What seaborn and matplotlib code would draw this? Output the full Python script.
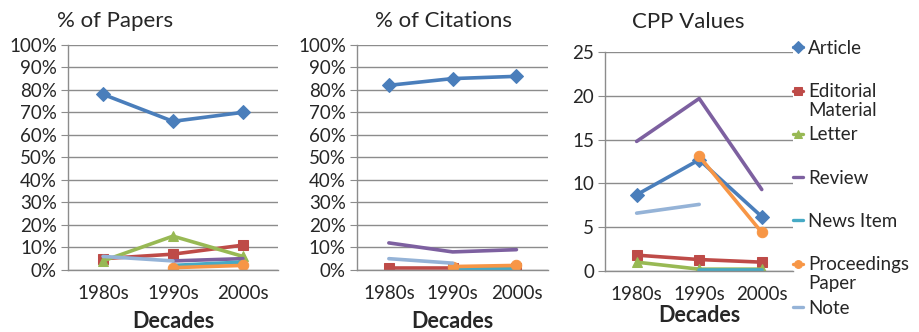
import numpy as np
import matplotlib
matplotlib.use("Agg")
import matplotlib.pyplot as plt
import seaborn as sns

# data
decades = ["1980s", "1990s", "2000s"]
types = ["Article", "Editorial", "Letter", "Review", "News Item", "Proceedings", "Note"]
colors = ["#4A7EBB", "#BE4B48", "#98B954", "#7D60A0", "#46AAC5", "#F79646", "#95B3D7"]
markers = ["D", "s", "^", None, None, "o", None]

papers_pct = [
    [78, 66, 70],          # Article
    [5, 7, 11],            # Editorial Material
    [4, 15, 6],            # Letter
    [np.nan, 4, 5],        # Review
    [np.nan, 2, 3.5],      # News Item
    [np.nan, 1, 2],        # Proceedings Paper
    [6, 4, np.nan],        # Note
]
citations_pct = [
    [82, 85, 86],
    [1, 1, 1],
    [np.nan, 0.5, 0.5],
    [12, 8, 9],
    [np.nan, 0.3, 0.3],
    [np.nan, 1.5, 2],
    [5, 3, np.nan],
]
cpp_values = [
    [8.7, 12.7, 6.2],
    [1.8, 1.3, 1.0],
    [1.0, 0.2, 0.2],
    [14.8, 19.7, 9.3],
    [np.nan, 0.1, 0.1],
    [np.nan, 13.1, 4.4],
    [6.6, 7.6, np.nan],
]

sns.set_style("white")
plt.rcParams["font.family"] = ["Lato", "DejaVu Sans"]

fig = plt.figure(figsize=(9.2, 3.32), dpi=100)
ax1 = fig.add_axes([0.074, 0.187, 0.228, 0.678])
ax2 = fig.add_axes([0.388, 0.187, 0.208, 0.678])
ax3 = fig.add_axes([0.658, 0.184, 0.204, 0.659])

x = np.arange(len(decades))
grid_col = "#8c8c8c"
fs = 13.5


def draw(ax, series, ylim, yticks, ylabels, title, tx, ty, lpad):
    for vals, name, col, mk in zip(series, types, colors, markers):
        sns.lineplot(x=x, y=vals, ax=ax, color=col, marker=mk, markersize=7.5,
                     markeredgecolor=col, linewidth=2.6, label=name, legend=False)
    ax.set_xlim(-0.5, 2.5)
    ax.set_ylim(*ylim)
    ax.set_yticks(yticks)
    ax.set_yticklabels(ylabels)
    ax.set_xticks(x)
    ax.set_xticklabels(decades)
    ax.set_xticks(np.arange(-0.5, 3, 1), minor=True)
    ax.tick_params(axis="x", which="major", length=0, labelsize=fs, pad=11)
    ax.tick_params(axis="x", which="minor", length=5, color=grid_col, direction="out")
    ax.tick_params(axis="y", length=5, color=grid_col, labelsize=fs, left=True, pad=3)
    ax.yaxis.grid(True, color=grid_col, linewidth=1)
    ax.set_axisbelow(True)
    for s in ["top", "right"]:
        ax.spines[s].set_visible(False)
    for s in ["left", "bottom"]:
        ax.spines[s].set_color(grid_col)
        ax.spines[s].set_linewidth(1)
    ax.set_xlabel("Decades", fontsize=15.5, fontweight="bold", labelpad=lpad)
    ax.set_ylabel("")
    ax.set_title(title, fontsize=16, x=tx, y=ty, pad=0)


pct_ticks = np.arange(0, 101, 10)
pct_labels = [f"{t}%" for t in pct_ticks]
draw(ax1, papers_pct, (0, 100), pct_ticks, pct_labels, "% of Papers", 0.224, 1.08, 6)
draw(ax2, citations_pct, (0, 100), pct_ticks, pct_labels, "% of Citations", 0.45, 1.08, 6)
cpp_ticks = np.arange(0, 26, 5)
draw(ax3, cpp_values, (0, 25), cpp_ticks, [str(t) for t in cpp_ticks], "CPP Values", 0.44, 1.11, 1)

leg = ax3.legend(handles=ax3.get_lines(), labels=types, loc="upper left",
                 bbox_to_anchor=(793 / 920, 1 - 40 / 332), bbox_transform=fig.transFigure,
                 frameon=False, fontsize=fs, borderpad=0, borderaxespad=0,
                 handlelength=0.55, handletextpad=0.25, labelspacing=1.4, markerscale=0.75)
for h in leg.legend_handles:
    h.set_linewidth(2.4)

# second lines of the wrapped legend labels
fig.canvas.draw()
inv = fig.transFigure.inverted()
for txt, extra in zip(leg.get_texts(), ["", "Material", "", "", "", "Paper", ""]):
    if extra:
        bb = txt.get_window_extent()
        x0, y0 = inv.transform((bb.x0, bb.y0 - 2))
        fig.text(x0, y0, extra, fontsize=fs, va="top", ha="left")

fig.savefig("out.png", dpi=100)
